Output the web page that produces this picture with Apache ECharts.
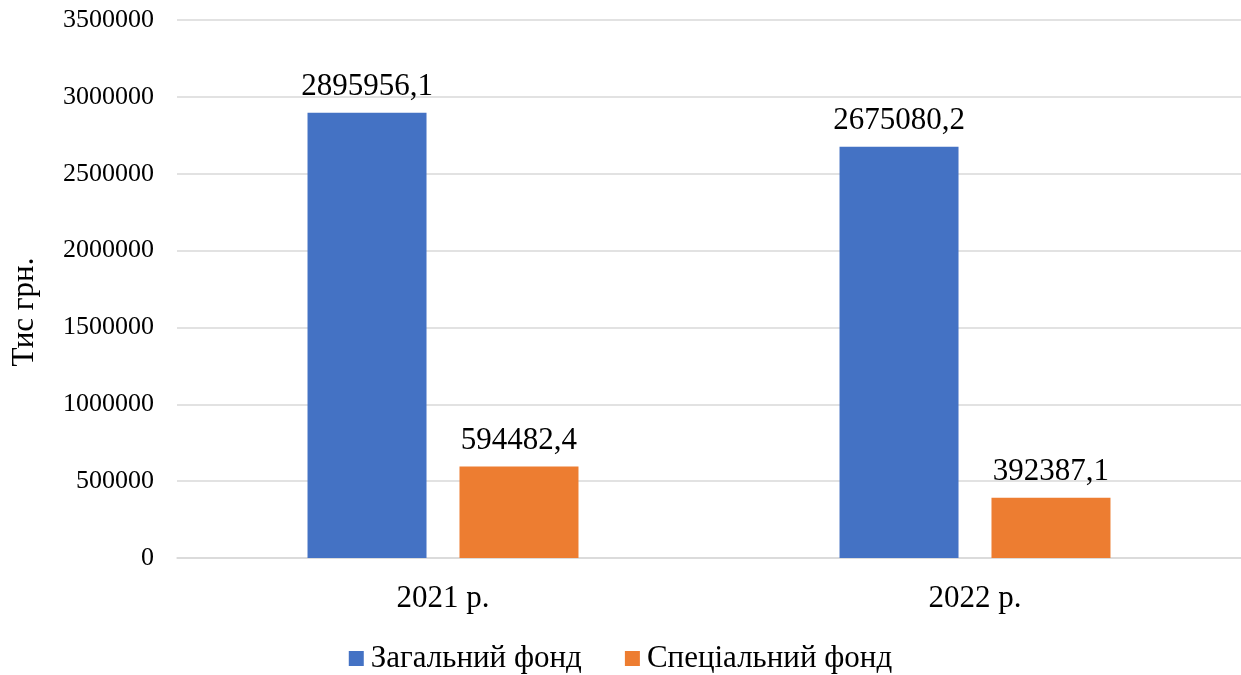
<!DOCTYPE html>
<html><head><meta charset="utf-8">
<script src="https://cdn.jsdelivr.net/npm/echarts@6/dist/echarts.min.js"></script>
<style>html,body{margin:0;padding:0;background:#fff}#c{width:1241px;height:675px}</style>
</head><body><div id="c"></div>
<script>
const categories = ['2021 р.', '2022 р.'];
const generalFund = [2895956.1, 2675080.2];
const specialFund = [594482.4, 392387.1];
const seriesNames = ['Загальний фонд', 'Спеціальний фонд'];
const yTicks = [0, 500000, 1000000, 1500000, 2000000, 2500000, 3000000, 3500000];

const FONT = '"Liberation Serif", "Times New Roman", serif';
const fmt = v => String(v.toFixed(1)).replace('.', ',');
const chart = echarts.init(document.getElementById('c'));
chart.setOption({
  animation: false,
  textStyle: { fontFamily: FONT },
  grid: { left: 177, right: 0, top: 20, bottom: 117, containLabel: false },
  legend: {
    top: 638, left: 'center', itemWidth: 15, itemHeight: 15, itemGap: 43,
    icon: 'rect',
    textStyle: { fontFamily: FONT, fontSize: 31, color: '#000', padding: [0, 0, 0, 2] },
    data: seriesNames
  },
  xAxis: {
    type: 'category', data: categories,
    axisLine: { lineStyle: { color: '#d9d9d9', width: 1.5 } },
    axisTick: { show: false },
    axisLabel: { fontFamily: FONT, fontSize: 31, color: '#000', margin: 25 }
  },
  yAxis: {
    type: 'value', min: yTicks[0], max: yTicks[yTicks.length - 1], interval: 500000,
    name: 'Тис грн.', nameLocation: 'middle', nameGap: 137,
    nameTextStyle: { fontFamily: FONT, fontSize: 31, color: '#000', padding: [0, 46, 0, 0] },
    axisLine: { show: false }, axisTick: { show: false },
    axisLabel: { fontFamily: FONT, fontSize: 26, color: '#000', margin: 23, formatter: v => String(v) },
    splitLine: { lineStyle: { color: '#d9d9d9', width: 1.5 } }
  },
  series: [
    { name: seriesNames[0], type: 'bar', data: generalFund, barWidth: 119, barGap: '27.7%',
      itemStyle: { color: '#4472c4' },
      label: { show: true, position: 'top', distance: 10, fontFamily: FONT, fontSize: 31, color: '#000', formatter: p => fmt(p.value) } },
    { name: seriesNames[1], type: 'bar', data: specialFund, barWidth: 119,
      itemStyle: { color: '#ed7d31' },
      label: { show: true, position: 'top', distance: 10, fontFamily: FONT, fontSize: 31, color: '#000', formatter: p => fmt(p.value) } }
  ]
});
</script></body></html>
